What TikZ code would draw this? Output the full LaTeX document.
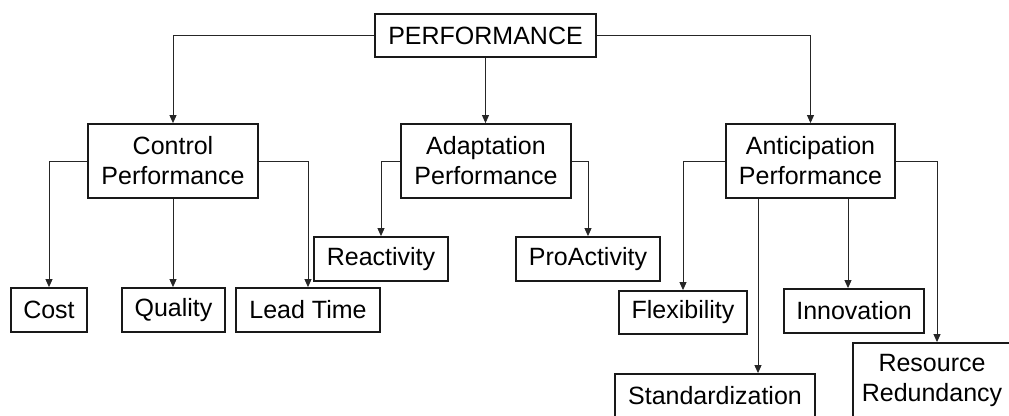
\documentclass[tikz,border=0pt]{standalone}
\usepackage{fontspec}
\setmainfont{Liberation Sans}
\usetikzlibrary{arrows.meta}
\begin{document}
\begin{tikzpicture}[x=1pt,y=-1pt,
  box/.style={draw=black!90,line width=1.8pt,inner sep=0pt,align=center,
    font=\fontsize{25}{30}\selectfont},
  arr/.style={draw=black!85,line width=0.9pt,-{Triangle[width=7pt,length=8pt]}}]
\useasboundingbox (0,0) rectangle (1009,415);
\clip (0,0) rectangle (1009,415);
\node[box,minimum width=221pt,minimum height=43pt] (perf) at (485.5,35.5) {PERFORMANCE};
\node[box,minimum width=170pt,minimum height=74pt] (ctrl) at (173,161) {Control\\Performance};
\node[box,minimum width=170pt,minimum height=74pt] (adap) at (486,161) {Adaptation\\Performance};
\node[box,minimum width=169pt,minimum height=74pt] (anti) at (810.5,161) {Anticipation\\Performance};
\node[box,minimum width=76pt,minimum height=44pt] (cost) at (49,310) {Cost};
\node[box,minimum width=103pt,minimum height=44pt] (qual) at (173.5,310) {Quality};
\node[box,minimum width=144pt,minimum height=44pt] (lead) at (308,310) {Lead Time};
\node[box,minimum width=134pt,minimum height=44pt] (reac) at (381,259) {Reactivity};
\node[box,minimum width=144pt,minimum height=44pt] (proa) at (588,259) {ProActivity};
\node[box,minimum width=128pt,minimum height=43pt] (flex) at (683,312.5) {Flexibility};
\node[box,minimum width=140pt,minimum height=44pt] (inno) at (854,311) {Innovation};
\node[box,minimum width=200pt,minimum height=44pt] (stan) at (715,396) {Standardization};
\node[box,minimum width=158pt,minimum height=74pt] (reso) at (932,380) {Resource\\Redundancy};
\coordinate (xs) at (758,0);
\coordinate (xi) at (848,0);
\coordinate (xr) at (937,0);
\draw[arr] (perf.west) -| (ctrl.north);
\draw[arr] (perf.east) -| (anti.north);
\draw[arr] (perf.south) -- (perf.south |- adap.north);
\draw[arr] (ctrl.west) -| (cost.north);
\draw[arr] (ctrl.east) -| (lead.north);
\draw[arr] (ctrl.south) -- (ctrl.south |- qual.north);
\draw[arr] (adap.west) -| (reac.north);
\draw[arr] (adap.east) -| (proa.north);
\draw[arr] (anti.west) -| (flex.north);
\draw[arr] (anti.east) -| (reso.north -| xr);
\draw[arr] (anti.south -| xs) -- (stan.north -| xs);
\draw[arr] (anti.south -| xi) -- (inno.north -| xi);
\end{tikzpicture}
\end{document}
